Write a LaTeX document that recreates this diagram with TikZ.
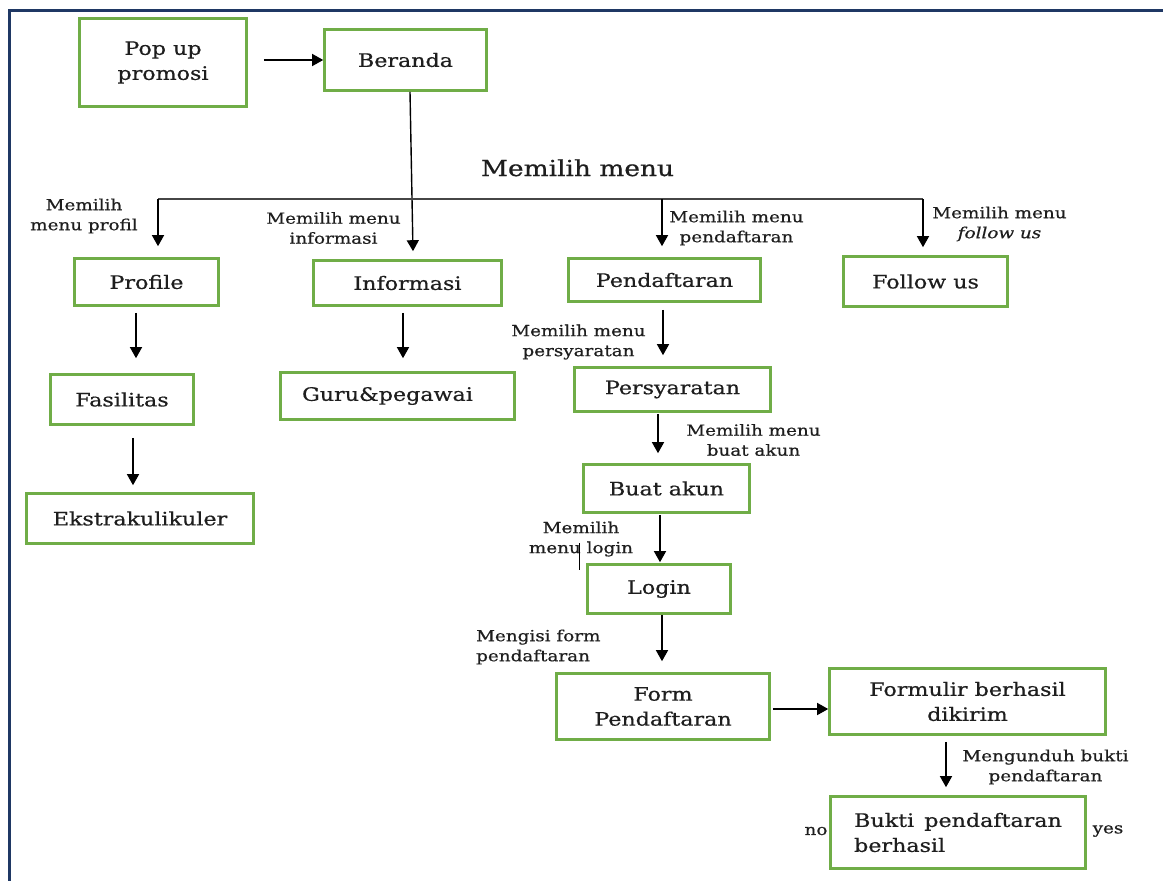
\documentclass[tikz,border=0pt]{standalone}
\usepackage{fontspec}
\setmainfont[FakeStretch=1.2,FakeBold=0.6]{DejaVu Serif}
\usetikzlibrary{arrows.meta,calc}
\definecolor{boxgreen}{RGB}{112,173,71}
\definecolor{bordernavy}{RGB}{31,56,100}
\definecolor{branchgray}{RGB}{70,70,70}
\definecolor{ink}{RGB}{30,30,30}
\begin{document}
\begin{tikzpicture}[x=1pt,y=-1pt,
  box/.style={draw=boxgreen,line width=2.6pt,inner sep=0pt,align=center,font=\fontsize{18.5}{25}\selectfont,text=ink},
  lbl/.style={inner sep=0pt,align=center,font=\fontsize{15.3}{20}\selectfont,text=ink},
  arr/.style={draw=black,line width=1.4pt,-{Triangle[length=11pt,width=12pt]}},
]
\useasboundingbox (0,0) rectangle (1163,881);
\fill[white] (0,0) rectangle (1163,881);
\draw[bordernavy,line width=3pt] (1163,10) -- (9,10) -- (9,881);

% boxes
\node[box,minimum width=167pt,minimum height=88pt] (pop) at (163,62.5) {Pop up\\promosi};
\node[box,minimum width=162pt,minimum height=61pt] (ber) at (405.5,60) {Beranda};
\node[box,minimum width=144pt,minimum height=47pt] (prof) at (146.5,282) {Profile};
\node[box,minimum width=188pt,minimum height=45pt] (info) at (407.5,283) {Informasi};
\node[box,minimum width=192pt,minimum height=43pt] (pend) at (664.5,280) {Pendaftaran};
\node[box,minimum width=164pt,minimum height=50pt] (fol) at (925.5,281.5) {Follow us};
\node[box,minimum width=143pt,minimum height=50pt] (fas) at (122,399.5) {Fasilitas};
\node[box,minimum width=227pt,minimum height=50pt] (eks) at (140,518.5) {Ekstrakulikuler};
\node[box,minimum width=234pt,minimum height=47pt] (guru) at (397.5,396) {Guru\&pegawai\hspace*{20pt}};
\node[box,minimum width=196pt,minimum height=44pt] (pers) at (672.5,389.5) {Persyaratan};
\node[box,minimum width=166pt,minimum height=48pt] (buat) at (666.5,488.5) {Buat akun};
\node[box,minimum width=143pt,minimum height=49pt] (login) at (659,589) {Login};
\node[box,minimum width=213pt,minimum height=66pt] (form) at (663,706.5) {Form\\Pendaftaran};
\node[box,minimum width=276pt,minimum height=66pt] (fberh) at (967.5,701.5) {Formulir berhasil\\dikirim};
\node[box,align=left,minimum width=255pt,minimum height=72pt] (bukti) at (958,832.5) {Bukti\hspace{3pt} pendaftaran\\berhasil};

% texts
\node[inner sep=0pt,anchor=base,font=\fontsize{22}{26}\selectfont,text=ink] (mm) at (577.5,176) {Memilih menu};
\node[lbl] (lprof) at (84,216) {Memilih\\menu profil};
\node[lbl] (linfo) at (333.5,228) {Memilih menu\\informasi};
\node[lbl] (lpend) at (736.5,228) {Memilih menu\\pendaftaran};
\node[lbl] (lfol) at (999.5,224) {Memilih menu\\\textit{follow us}};
\node[lbl] (lpers) at (578.5,342) {Memilih menu\\persyaratan};
\node[lbl] (lbuat) at (753.5,440) {Memilih menu\\buat akun};
\node[lbl] (llog) at (581,539) {Memilih\\menu login};
\node[lbl,align=left,anchor=west] (lform) at (476,647) {Mengisi form\\pendaftaran};
\node[lbl] (lung) at (1045.5,767) {Mengunduh bukti\\pendaftaran};
\node[lbl] (lno) at (816,831) {no};
\node[lbl] (lyes) at (1108,831) {yes};

% connectors
\coordinate (a0) at ($(pop.east)+(16,-2.5)$);
\draw[arr] (a0) -- (ber.west);
\draw[arr] ($(ber.south)+(4.5,0)$) -- ($(info.north)+(5.5,-8)$);
\coordinate (bl) at (158,199);
\coordinate (bp) at (662,199);
\coordinate (br) at (923,199);
\draw[branchgray,line width=1.5pt] (bl) -- (br);
\draw[arr] (bl) -- ($(prof.north)+(11.5,-11)$);
\draw[arr] (bp) -- ($(pend.north)+(-2.5,-11)$);
\draw[arr] (br) -- ($(fol.north)+(-2.5,-8)$);
\draw[arr] ($(prof.south)+(-10.5,6)$) -- ($(fas.north)+(14,-15)$);
\draw[arr] ($(fas.south)+(11,12)$) -- ($(eks.north)+(-7,-7)$);
\draw[arr] ($(info.south)+(-4.5,6)$) -- ($(guru.north)+(5.5,-13)$);
\draw[arr] ($(pend.south)+(-1.5,7)$) -- ($(pers.north)+(-9.5,-11)$);
\draw[arr] ($(pers.south)+(-14.5,1)$) -- ($(buat.north)+(-8.5,-10)$);
\draw[arr] ($(buat.south)+(-6.5,1)$) -- ($(login.north)+(1,-1)$);
\draw[arr] ($(login.south)+(3,0)$) -- ($(form.north)+(-1,-11)$);
\draw[arr] ($(form.east)+(2,2.5)$) -- ($(fberh.west)+(0,7.5)$);
\draw[arr] ($(fberh.south)+(-21.5,6)$) -- ($(bukti.north)+(-12,-8)$);
% stray mark
\draw[line width=0.9pt] (579,543) -- (579,570);
\end{tikzpicture}
\end{document}
